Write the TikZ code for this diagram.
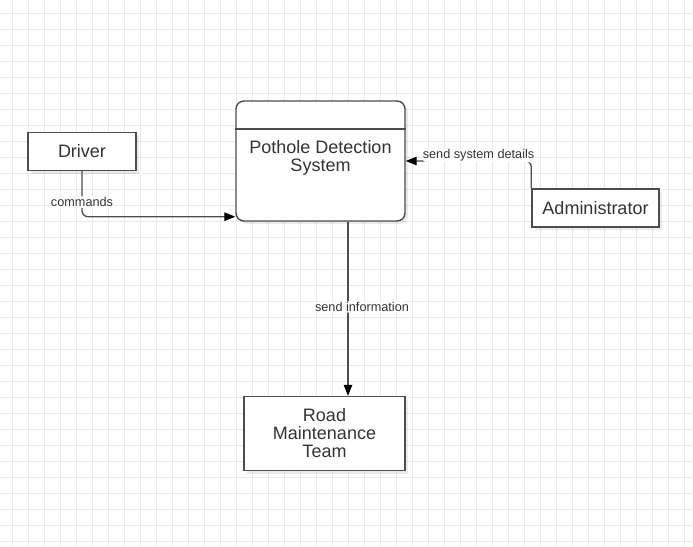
\documentclass[tikz,border=0pt]{standalone}
\usepackage{fontspec}
\setmainfont{Liberation Sans}
\usetikzlibrary{arrows.meta,shadows}

\definecolor{gridline}{HTML}{E9E9E9}
\definecolor{edgegray}{HTML}{4D4D4D}
\definecolor{textgray}{HTML}{333333}

\begin{document}
\begin{tikzpicture}[x=1pt,y=-1pt,
    entity/.style={draw=edgegray, line width=1.4pt, fill=white, inner sep=0pt,
        text=textgray, font=\fontsize{18}{18}\selectfont, align=center,
        drop shadow={shadow xshift=3pt, shadow yshift=-3pt, opacity=0.08, fill=black}},
    flow/.style={draw=edgegray, line width=1.3pt, rounded corners=6pt,
        -{Triangle[length=11pt,width=8.5pt,color=black]}},
    lbl/.style={fill=white, inner sep=1pt, text=textgray, font=\fontsize{12.7}{13}\selectfont}]

% background and grid
\fill[white] (0,0) rectangle (693,546);
\useasboundingbox (0,0) rectangle (693,546);
\foreach \x in {12,28,...,684} \draw[gridline, line width=1pt] (\x,0) -- (\x,546);
\foreach \y in {13,29,...,541} \draw[gridline, line width=1pt] (0,\y) -- (693,\y);

% entities
\node[entity, minimum width=108pt, minimum height=38pt] (driver) at (82,151.5) {Driver};
\node[entity, minimum width=127pt, minimum height=38pt] (admin) at (595.5,208) {Administrator};
\node[entity, minimum width=161pt, minimum height=74pt] (road) at (324.5,433.5) {Road\\Maintenance\\Team};

% process
\node[entity, rounded corners=8pt, minimum width=169pt, minimum height=120pt] (process) at (320.5,161) {};
\draw[edgegray, line width=1.4pt] (process.west |- 0,129) -- (process.east |- 0,129);
\node[text=textgray, font=\fontsize{18}{18}\selectfont, align=center] (title) at (320.5,157.5) {Pothole Detection\\System};

% flows
\coordinate (infox) at (348,0);
\draw[flow] (driver.south) |- ([yshift=5pt]process.south west)
    node[lbl, pos=0.34] {commands};
\draw[flow] (admin.north west) |- (process.east)
    node[lbl, pos=0.71, yshift=5.5pt] {send system details};
\draw[flow] (infox |- process.south) -- (infox |- road.north)
    node[lbl, pos=0.49, xshift=14pt] {send information};
\end{tikzpicture}
\end{document}
